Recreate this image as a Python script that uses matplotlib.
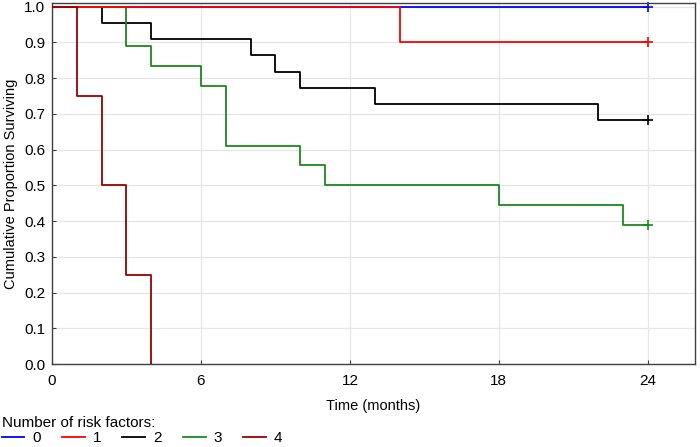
import matplotlib
matplotlib.use("Agg")
import matplotlib.pyplot as plt

plt.rcParams["font.family"] = ["Liberation Sans", "DejaVu Sans"]
plt.rcParams["font.size"] = 10.5

# Kaplan-Meier steps (time in months, proportion surviving)
t0 = [0, 24]
s0 = [1.0, 1.0]
t1 = [0, 14, 24]
s1 = [1.0, 0.9, 0.9]
t2 = [0, 2, 4, 8, 9, 10, 13, 22, 24]
s2 = [1.0, 0.955, 0.909, 0.864, 0.818, 0.773, 0.727, 0.682, 0.682]
t3 = [0, 3, 4, 6, 7, 10, 11, 18, 23, 24]
s3 = [1.0, 0.889, 0.833, 0.778, 0.611, 0.556, 0.5, 0.444, 0.389, 0.389]
t4 = [0, 1, 2, 3, 4]
s4 = [1.0, 0.75, 0.5, 0.25, 0.0]

group_labels = ["0", "1", "2", "3", "4"]
colors = ["#0000ff", "#ff0000", "#000000", "#1a8a1a", "#9b0000"]
censored = [True, True, True, True, False]
xticks = [0, 6, 12, 18, 24]
yticks = [0.0, 0.1, 0.2, 0.3, 0.4, 0.5, 0.6, 0.7, 0.8, 0.9, 1.0]

fig = plt.figure(figsize=(7.0, 4.47), dpi=100)
ax = fig.add_axes([52 / 700, 1 - 364 / 447, (695 - 52) / 700, (364 - 3) / 447])

series = [(t0, s0), (t1, s1), (t2, s2), (t3, s3), (t4, s4)]
zorders = [2, 4, 3, 3, 5]
handles = []
for (t, s), lab, col, cens, z in zip(series, group_labels, colors, censored, zorders):
    (h,) = ax.step(t, s, where="post", color=col, lw=1.3, label=lab, zorder=z)
    handles.append(h)
    if cens:
        ax.plot(t[-1], s[-1], marker="+", ms=7, mew=1.2, color=col, zorder=z,
                clip_on=False)

ax.set_xlim(0, 25.9)
ax.set_ylim(0, 1.01)
ax.set_xticks(xticks)
ax.set_yticks(yticks)
ax.set_yticklabels([f"{v:.1f}" for v in yticks])
ax.tick_params(direction="in", length=3, color="#404040", labelsize=11)
ax.tick_params(axis="x", pad=7)
ax.tick_params(axis="y", pad=5)
ax.grid(True, color="#e6e6e6", lw=0.9, zorder=0)
ax.set_axisbelow(True)
for sp in ax.spines.values():
    sp.set_color("#404040")
    sp.set_linewidth(1.0)

ax.set_xlabel("Time (months)", labelpad=8)
ax.set_ylabel("Cumulative Proportion Surviving", labelpad=4)

leg = fig.legend(handles=handles, labels=group_labels, title="Number of risk factors:",
                 loc="lower left", bbox_to_anchor=(0.0, 0.0), ncol=5, frameon=False,
                 handlelength=1.5, handletextpad=0.5, columnspacing=1.4,
                 borderpad=0.1, borderaxespad=0.0, alignment="left",
                 labelspacing=0.1, title_fontsize=11, fontsize=11)

fig.savefig("out.png", dpi=100)
